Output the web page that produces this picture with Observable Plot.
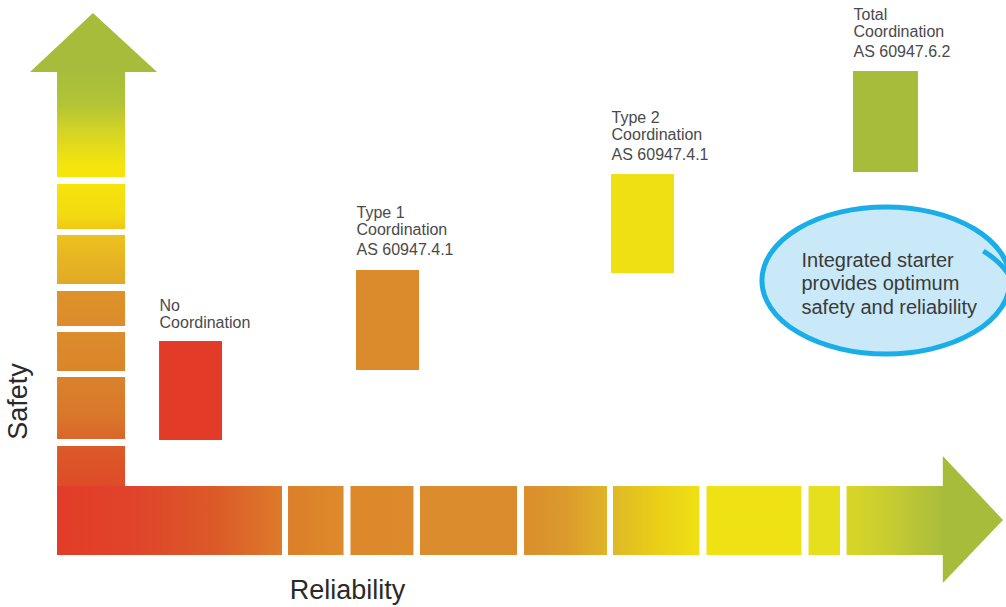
<!DOCTYPE html>
<html>
<head>
<meta charset="utf-8">
<script src="https://cdn.jsdelivr.net/npm/d3@7"></script>
<script src="https://cdn.jsdelivr.net/npm/@observablehq/plot@0.6"></script>
<style>
  html, body { margin: 0; padding: 0; background: #ffffff; overflow: hidden; }
  #chart svg { display: block; }
</style>
</head>
<body>
<div id="chart"></div>
<script>
// ---------- DATA (chart units: reliability 0–100 across, safety 0–100 up) ----------
const categories = ["No\nCoordination", "Type 1\nCoordination", "Type 2\nCoordination", "Total\nCoordination"];
const standards = [null, "AS 60947.4.1", "AS 60947.4.1", "AS 60947.6.2"];
const reliabilityStart = [15.81, 35.39, 60.74, 84.79];
const reliabilityEnd = [22.07, 41.65, 67.00, 91.25];
const safetyLow = [27.51, 39.04, 55.02, 71.66];
const safetyHigh = [43.82, 55.52, 71.33, 88.30];
const barColors = ["#e23c28", "#db8b2c", "#efe014", "#a8bc3c"];

// Safety arrow (vertical): shaft extent and band breaks
const safetyShaft = [5.67, 12.43];
const safetyBandLow = [70.84, 62.27, 53.21, 46.29, 38.88, 27.68, 8.57];
const safetyBandHigh = [88.14, 69.69, 61.29, 52.06, 45.30, 37.89, 26.52];
const safetyHead = {x: [2.98, 9.24, 15.61], y: [88.14, 97.86, 88.14]};

// Reliability arrow (horizontal): shaft extent and band breaks
const reliabilityShaft = [8.57, 19.93];
const reliabilityBandStart = [5.67, 28.63, 34.84, 41.75, 52.09, 60.93, 70.23, 80.37, 84.15];
const reliabilityBandEnd = [28.03, 34.15, 41.10, 51.39, 60.34, 69.53, 79.67, 83.50, 93.84];
const reliabilityHead = {x: [93.72, 99.70, 93.72], y: [3.95, 14.33, 24.88]};

// Band colour gradients (styles)
const safetyGradients = [
  [[0, "#a6be3c"], [0.3, "#b2c336"], [0.6, "#d8d622"], [0.9, "#f5e50c"], [1, "#f6e40c"]],
  [[0, "#f6e40c"], [0.7, "#f3da10"], [1, "#efc816"]],
  [[0, "#ecc21e"], [1, "#e2a828"]],
  [[0, "#de922a"], [1, "#dc8c2a"]],
  [[0, "#dc8c2a"], [1, "#da852a"]],
  [[0, "#da822a"], [0.6, "#d9782a"], [1, "#d9662a"]],
  [[0, "#dc5a28"], [0.4, "#df4a28"], [1, "#e23c28"]]
];
const reliabilityGradients = [
  [[0, "#e23c28"], [0.35, "#e0442a"], [0.7, "#db5a28"], [1, "#dd7a2a"]],
  [[0, "#dc7e2a"], [0.5, "#dc852a"], [1, "#dc8a2b"]],
  [[0, "#dc882b"], [1, "#dc8a2b"]],
  [[0, "#db8c2c"], [1, "#db8c2c"]],
  [[0, "#da8e2c"], [0.5, "#dc9a2c"], [1, "#e0b426"]],
  [[0, "#dfb826"], [0.5, "#eace18"], [1, "#f0e014"]],
  [[0, "#efe214"], [1, "#efe214"]],
  [[0, "#e6df1e"], [1, "#e6df1e"]],
  [[0, "#d8d626"], [0.5, "#c4ca32"], [1, "#a8bc3c"]]
];
const headColor = "#a8bc3c";

// Callout
const calloutText = "Integrated starter\nprovides optimum\nsafety and reliability";
const callout = {cx: 88.07, cy: 53.79, rx: 12.33, ry: 12.11, textX: 79.62, textBaseline: 48.43};

// Axis titles
const axisTitles = [
  {text: "Safety", x: 2.68, y: 33.94, rotate: -90},
  {text: "Reliability", x: 34.49, y: 1.32, rotate: 0}
];

// ---------- BUILD TABLES ----------
const boxes = categories.map((c, i) => ({
  title: c, standard: standards[i],
  x1: reliabilityStart[i], x2: reliabilityEnd[i],
  y1: safetyLow[i], y2: safetyHigh[i], color: barColors[i]
}));
const vBands = safetyBandLow.map((lo, i) => ({
  x1: safetyShaft[0], x2: safetyShaft[1], y1: lo, y2: safetyBandHigh[i], fill: `url(#sg${i})`
}));
const hBands = reliabilityBandStart.map((s, i) => ({
  x1: s, x2: reliabilityBandEnd[i], y1: reliabilityShaft[0], y2: reliabilityShaft[1], fill: `url(#rg${i})`
}));
const vHead = safetyHead.x.map((x, i) => ({x, y: safetyHead.y[i]}));
const hHead = reliabilityHead.x.map((x, i) => ({x, y: reliabilityHead.y[i]}));

function gradientDefs() {
  const g = d3.create("svg:g");
  const defs = g.append("defs");
  const add = (id, stops, horizontal) => {
    const lg = defs.append("linearGradient").attr("id", id)
      .attr("x1", 0).attr("y1", 0).attr("x2", horizontal ? 1 : 0).attr("y2", horizontal ? 0 : 1);
    stops.forEach(([o, c]) => lg.append("stop").attr("offset", o).attr("stop-color", c));
  };
  safetyGradients.forEach((s, i) => add(`sg${i}`, s, false));
  reliabilityGradients.forEach((s, i) => add(`rg${i}`, s, true));
  return g.node();
}

function calloutMark(index, scales) {
  const {x, y} = scales;
  const cx = x(callout.cx), cy = y(callout.cy);
  const rx = x(callout.cx + callout.rx) - cx;
  const ry = cy - y(callout.cy + callout.ry);
  const g = d3.create("svg:g");
  g.append("ellipse").attr("cx", cx).attr("cy", cy).attr("rx", rx).attr("ry", ry)
    .attr("fill", "#c9e9f9").attr("stroke", "#1aaee8").attr("stroke-width", 5);
  const pts = d3.range(0, 1.0001, 0.05).map(t => {
    const th = (-27 + 24 * t) * Math.PI / 180;
    const k = 0.88 + 0.12 * t;
    return [cx + k * rx * Math.cos(th), cy + k * ry * Math.sin(th)];
  });
  g.append("path").attr("d", d3.line()(pts)).attr("fill", "none")
    .attr("stroke", "#1aaee8").attr("stroke-width", 5);
  return g.node();
}

const font = "'Liberation Sans', Arial, Helvetica, sans-serif";

const chart = Plot.plot({
  width: 1006,
  height: 607,
  margin: 0,
  x: {domain: [0, 100], axis: null},
  y: {domain: [0, 100], axis: null},
  color: {type: "identity"},
  style: {background: "#ffffff", fontFamily: font},
  marks: [
    gradientDefs,
    // safety arrow
    Plot.rect(vBands, {x1: "x1", x2: "x2", y1: "y1", y2: "y2", fill: "fill"}),
    Plot.areaY(vHead, {x: "x", y1: safetyHead.y[0], y2: "y", fill: headColor}),
    // reliability arrow
    Plot.rect(hBands, {x1: "x1", x2: "x2", y1: "y1", y2: "y2", fill: "fill"}),
    Plot.areaX(hHead, {y: "y", x1: reliabilityHead.x[0], x2: "x", fill: headColor}),
    // category boxes
    Plot.rect(boxes, {x1: "x1", x2: "x2", y1: "y1", y2: "y2", fill: "color"}),
    Plot.text(boxes.filter(d => d.standard), {
      x: "x1", y: "y2", text: "standard", textAnchor: "start", lineAnchor: "bottom",
      dy: -15, fontSize: 16, fill: "#4a4a4a"
    }),
    Plot.text(boxes.filter(d => d.standard), {
      x: "x1", y: "y2", text: "title", textAnchor: "start", lineAnchor: "bottom",
      lineHeight: 17 / 16, dy: -35, fontSize: 16, fill: "#4a4a4a"
    }),
    Plot.text(boxes.filter(d => !d.standard), {
      x: "x1", y: "y2", text: "title", textAnchor: "start", lineAnchor: "bottom",
      lineHeight: 17 / 16, dy: -14, fontSize: 16, fill: "#4a4a4a"
    }),
    // callout
    calloutMark,
    Plot.text([calloutText], {
      x: callout.textX, y: callout.textBaseline, text: d => d, textAnchor: "start",
      lineAnchor: "bottom", lineHeight: 23.5 / 20, fontSize: 20, fill: "#3a3a3a"
    }),
    // axis titles
    Plot.text(axisTitles, {
      x: "x", y: "y", text: "text", rotate: "rotate", textAnchor: "middle",
      lineAnchor: "bottom", fontSize: 27, fill: "#2a2a2a"
    })
  ]
});
document.getElementById("chart").appendChild(chart);
</script>
</body>
</html>
